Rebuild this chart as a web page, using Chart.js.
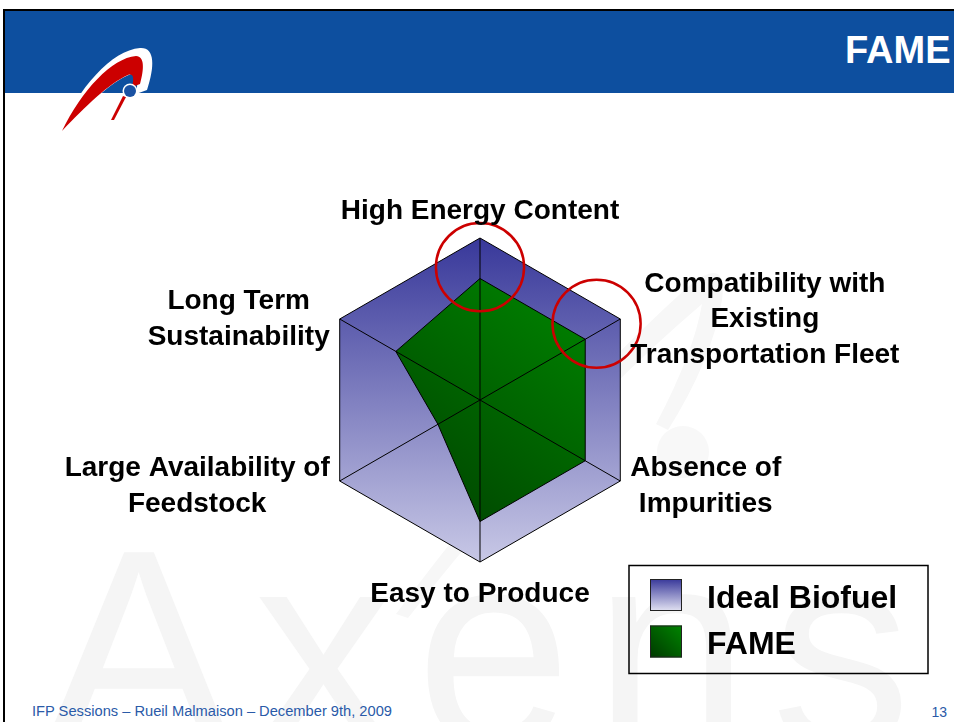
<!DOCTYPE html>
<html>
<head>
<meta charset="utf-8">
<script src="https://cdn.jsdelivr.net/npm/chart.js@4.4.1/dist/chart.umd.min.js"></script>
<style>
html, body { margin: 0; padding: 0; background: #fff; }
#slide { position: relative; width: 954px; height: 722px; overflow: hidden; background: #fff; }
#slide svg, #slide canvas { position: absolute; left: 0; top: 0; }
</style>
</head>
<body>
<div id="slide">
  <svg width="954" height="722" xmlns="http://www.w3.org/2000/svg" font-family="'Liberation Sans', Arial, sans-serif">
    <!-- watermark -->
    <path d="M 396 614 Q 540 420 690 285 Q 728 255 722 300 Q 712 360 668 430 L 656 424 Q 694 352 702 304 Q 560 425 408 618 Z" fill="#f7f7f7"/>
    <circle cx="683" cy="452" r="26" fill="#f8f8f8"/>
    <text x="45" y="745" font-size="280" letter-spacing="22" fill="#f5f5f5">Axens</text>
    <!-- frame + header -->
    <rect x="3" y="9" width="951" height="2" fill="#000"/>
    <rect x="3" y="9" width="2" height="713" fill="#000"/>
    <rect x="5" y="11" width="949" height="82" fill="#0d4f9f"/>
    <text x="845" y="63" font-size="38" font-weight="bold" fill="#fff">FAME</text>
    <!-- logo -->
    <path d="M 58 135 C 78 88, 112 50, 140 48 C 155 47, 155 66, 147 90 L 136 94 C 138 82, 139 72, 131 74 C 110 82, 84 108, 58 135 Z" fill="#fff"/>
    <path d="M 62 131 C 82 90, 112 58, 136 56 C 145 56, 144 70, 140 84 L 132 87 C 134 79, 134 73, 128 75 C 108 84, 86 106, 62 131 Z" fill="#cc0000"/>
    <path d="M 123 96 L 111 120 L 114 120 L 126 97 Z" fill="#cc0000"/>
    <circle cx="130" cy="91" r="7.5" fill="#fff"/>
    <circle cx="130" cy="91" r="6" fill="#1a52a3"/>
    <!-- footer -->
    <text x="32" y="716" font-size="14" textLength="360" lengthAdjust="spacingAndGlyphs" fill="#2a5aa8">IFP Sessions – Rueil Malmaison – December 9th, 2009</text>
    <text x="947" y="717" font-size="14" text-anchor="end" fill="#2a5aa8">13</text>
  </svg>
  <canvas id="radar" width="954" height="722"></canvas>
</div>
<script>
// axis labels (clockwise from the top)
const axisLabels = [
    ['High Energy Content'],
    ['Compatibility with', 'Existing', 'Transportation Fleet'],
    ['Absence of', 'Impurities'],
    ['Easy to Produce'],
    ['Large Availability of', 'Feedstock'],
    ['Long Term', 'Sustainability']
];
const seriesNames = ['Ideal Biofuel', 'FAME'];
const idealValues = [1, 1, 1, 1, 1, 1];
const fameValues = [0.75, 0.75, 0.75, 0.75, 0.30, 0.60];

// red highlight circles: axis index, distance (scale units), small angular shift
const ringAxis = [0, 1];
const ringAt = [0.82, 0.86];
const ringTurn = [0, -0.056];

const FONT = '"Liberation Sans", Arial, sans-serif';

function idealFill(c) {
    const chart = c.chart, r = chart.scales.r;
    if (!r || !chart.chartArea) return '#8080c0';
    const g = chart.ctx.createLinearGradient(0, r.yCenter - r.drawingArea, 0, r.yCenter + r.drawingArea);
    g.addColorStop(0, '#38389a');
    g.addColorStop(1, '#c8c8e6');
    return g;
}

function fameFill(c) {
    const chart = c.chart, r = chart.scales.r;
    if (!r || !chart.chartArea) return '#006600';
    const R = r.drawingArea;
    const g = chart.ctx.createLinearGradient(r.xCenter - 0.4 * R, r.yCenter + 0.7 * R, r.xCenter + 0.65 * R, r.yCenter - 0.6 * R);
    g.addColorStop(0, '#004400');
    g.addColorStop(1, '#008200');
    return g;
}

const overlay = {
    id: 'overlay',
    afterDatasetsDraw(chart) {
        const ctx = chart.ctx, r = chart.scales.r;
        const R = r.drawingArea;
        ctx.save();

        // spokes on top of the fills
        ctx.strokeStyle = '#000';
        ctx.lineWidth = 1;
        axisLabels.forEach((l, i) => {
            const p = r.getPointPositionForValue(i, r.max);
            ctx.beginPath();
            ctx.moveTo(r.xCenter, r.yCenter);
            ctx.lineTo(p.x, p.y);
            ctx.stroke();
        });

        // red circles
        ctx.strokeStyle = '#cc0000';
        ctx.lineWidth = 2.5;
        ringAxis.forEach((ax, k) => {
            const p = r.getPointPosition(ax, r.getDistanceFromCenterForValue(ringAt[k]), ringTurn[k]);
            ctx.beginPath();
            ctx.arc(p.x, p.y, 0.272 * R, 0, Math.PI * 2);
            ctx.stroke();
        });

        // axis labels
        ctx.fillStyle = '#000';
        ctx.font = 'bold 28px ' + FONT;
        ctx.textAlign = 'center';
        ctx.textBaseline = 'alphabetic';
        const lh = 35.5;
        axisLabels.forEach((lines, i) => {
            const p = r.getPointPositionForValue(i, r.max);
            const w = Math.max(...lines.map(t => ctx.measureText(t).width));
            const dx = p.x - r.xCenter;
            let cx, y0;
            if (Math.abs(dx) < 1) {
                cx = p.x;
                y0 = p.y < r.yCenter ? p.y - 19 - (lines.length - 1) * lh : p.y + 40;
            } else {
                cx = dx > 0 ? p.x + 10 + w / 2 : p.x - 10 - w / 2;
                y0 = p.y + (p.y > r.yCenter ? 13 : 8) - (lines.length - 1) * lh / 2;
            }
            lines.forEach((t, j) => ctx.fillText(t, cx, y0 + j * lh));
        });

        // legend box
        ctx.strokeStyle = '#000';
        ctx.lineWidth = 1.5;
        ctx.strokeRect(629, 565.5, 299, 108);
        const fills = [
            (() => { const g = ctx.createLinearGradient(0, 579, 0, 611); g.addColorStop(0, '#38389a'); g.addColorStop(1, '#e2e2f2'); return g; })(),
            (() => { const g = ctx.createLinearGradient(650, 658, 682, 626); g.addColorStop(0, '#003800'); g.addColorStop(1, '#008400'); return g; })()
        ];
        ctx.font = 'bold 32px ' + FONT;
        ctx.textAlign = 'left';
        seriesNames.forEach((name, k) => {
            const top = 579 + k * 46.5;
            ctx.fillStyle = fills[k];
            ctx.fillRect(650, top, 32, 32);
            ctx.lineWidth = 1;
            ctx.strokeStyle = '#222';
            ctx.strokeRect(650.5, top + 0.5, 31, 31);
            ctx.fillStyle = '#000';
            ctx.fillText(name, 707, 608 + k * 45.5);
        });
        ctx.restore();
    }
};

new Chart(document.getElementById('radar'), {
    type: 'radar',
    data: {
        labels: axisLabels,
        datasets: [
            { label: seriesNames[0], data: idealValues, order: 2, fill: true,
              backgroundColor: idealFill, borderColor: '#000', borderWidth: 1, pointRadius: 0 },
            { label: seriesNames[1], data: fameValues, order: 1, fill: true,
              backgroundColor: fameFill, borderColor: '#000', borderWidth: 1, pointRadius: 0 }
        ]
    },
    options: {
        responsive: false,
        animation: false,
        events: [],
        layout: { padding: { left: 318, right: 312, top: 238, bottom: 160 } },
        elements: { line: { tension: 0 } },
        plugins: { legend: { display: false }, tooltip: { enabled: false } },
        scales: {
            r: {
                min: 0, max: 1,
                ticks: { display: false, stepSize: 1 },
                grid: { display: false },
                angleLines: { display: false },
                pointLabels: { display: false }
            }
        }
    },
    plugins: [overlay]
});
</script>
</body>
</html>
